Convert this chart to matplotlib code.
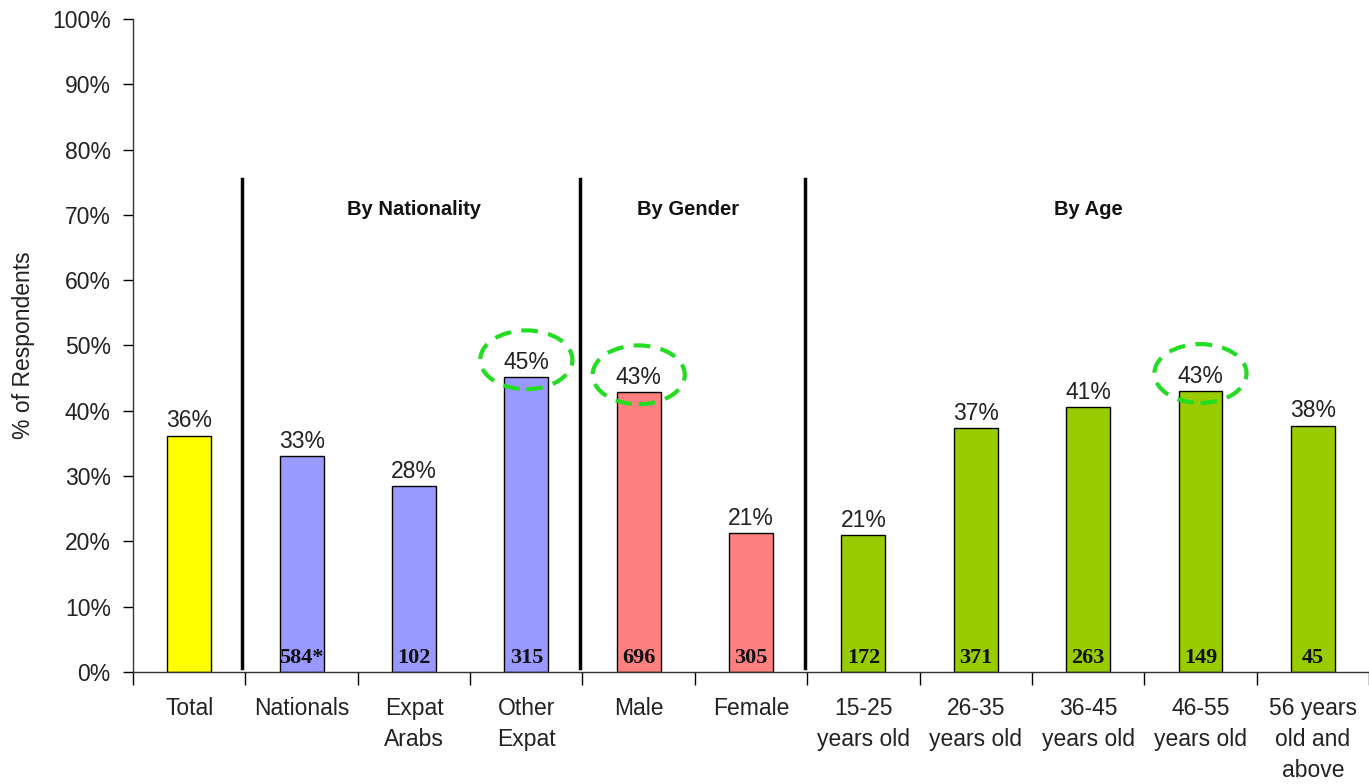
import numpy as np
import matplotlib
matplotlib.use("Agg")
import matplotlib.pyplot as plt
from matplotlib.patches import Ellipse

plt.rcParams["font.family"] = ["Liberation Sans", "DejaVu Sans"]

# -------------------- DATA --------------------
categories = ["Total", "Nationals", "Expat\nArabs", "Other\nExpat", "Male", "Female",
              "15-25\nyears old", "26-35\nyears old", "36-45\nyears old",
              "46-55\nyears old", "56 years\nold and\nabove"]
pct_values = [36.2, 33.0, 28.4, 45.1, 42.8, 21.3, 21.0, 37.3, 40.6, 43.0, 37.7]
sample_sizes = ["", "584*", "102", "315", "696", "305", "172", "371", "263", "149", "45"]
bar_colors = ["#FFFF00", "#9999FF", "#9999FF", "#9999FF", "#FF8080", "#FF8080",
              "#99CC00", "#99CC00", "#99CC00", "#99CC00", "#99CC00"]
highlighted = [3, 4, 9]

group_names = ["By Nationality", "By Gender", "By Age"]
group_centers = [2.0, 4.44, 8.0]
separators = [0.47, 3.48, 5.48]

FS = 16.5

# -------------------- PLOT --------------------
fig = plt.figure(figsize=(13.69, 7.84), dpi=100)
ax = fig.add_axes([0.0972, 0.1429, 0.9028, 0.833])

x = np.arange(len(categories))
ax.bar(x, pct_values, width=0.39, color=bar_colors, edgecolor="black", linewidth=1.0, zorder=2)

ax.set_xlim(-0.5, len(categories) - 0.5)
ax.set_ylim(0, 100)
ax.set_yticks(np.arange(0, 101, 10))
ax.set_yticklabels([f"{t}%" for t in range(0, 101, 10)], fontsize=FS, color="#222222")
ax.set_ylabel("% of Respondents", fontsize=FS, color="#222222", labelpad=12)

# category labels centred, tick marks on the boundaries
ax.set_xticks(x)
ax.set_xticklabels(categories, fontsize=FS, color="#222222", linespacing=1.45)
ax.tick_params(axis="x", length=0, pad=18)
ax.set_xticks(np.arange(-0.5, len(categories), 1.0), minor=True)
ax.tick_params(axis="x", which="minor", length=9, width=1.0, direction="out")
ax.tick_params(axis="y", length=7, width=1.0, direction="out", pad=9)

for side in ("top", "right"):
    ax.spines[side].set_visible(False)
for side in ("left", "bottom"):
    ax.spines[side].set_linewidth(1.0)
    ax.spines[side].set_color("#333333")

# value labels above, sample sizes at the bottom of each bar
for xi, v, n in zip(x, pct_values, sample_sizes):
    ax.text(xi, v + 0.5, f"{v:.0f}%", ha="center", va="bottom", fontsize=FS, color="#222222")
    if n:
        ax.text(xi, 0.6, n, ha="center", va="bottom", fontsize=16, fontweight="bold",
                family=["Liberation Serif", "DejaVu Serif"], color="#111111")

# dashed rings around the top scores
for i in highlighted:
    v = pct_values[i]
    ax.add_patch(Ellipse((x[i], v + 2.7), width=0.82, height=9.0, fill=False,
                         edgecolor="#22DD22", linewidth=3.0, linestyle=(0, (4, 2.5)), zorder=4))

# group separators and headings
for s in separators:
    ax.plot([s, s], [0.6, 75.5], color="black", linewidth=2.5, zorder=3)
for name, c in zip(group_names, group_centers):
    ax.text(c, 70.8, name, ha="center", va="center", fontsize=14.5, fontweight="bold",
            color="#111111")

fig.savefig("out.png", dpi=100)
